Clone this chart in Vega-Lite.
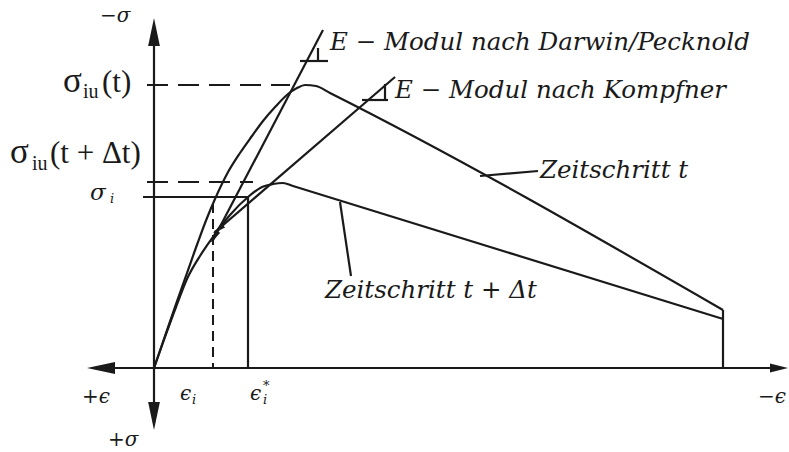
{
  "$schema": "https://vega.github.io/schema/vega-lite/v6.json",
  "width": 789,
  "height": 452,
  "autosize": "none",
  "padding": 0,
  "background": "white",
  "config": {"view": {"stroke": null}},
  "datasets": {
    "zeitschritte": [
      {"curve": "t", "e": 0, "s": 0}, {"curve": "t", "e": 11, "s": 32}, {"curve": "t", "e": 22, "s": 64},
      {"curve": "t", "e": 33, "s": 95}, {"curve": "t", "e": 44, "s": 126}, {"curve": "t", "e": 53, "s": 150},
      {"curve": "t", "e": 61, "s": 169}, {"curve": "t", "e": 73, "s": 194}, {"curve": "t", "e": 86, "s": 215},
      {"curve": "t", "e": 98, "s": 232}, {"curve": "t", "e": 109, "s": 247}, {"curve": "t", "e": 122, "s": 262},
      {"curve": "t", "e": 134, "s": 274}, {"curve": "t", "e": 143, "s": 280}, {"curve": "t", "e": 151, "s": 283},
      {"curve": "t", "e": 162, "s": 282}, {"curve": "t", "e": 176, "s": 275}, {"curve": "t", "e": 569, "s": 58},
      {"curve": "t+dt", "e": 0, "s": 0}, {"curve": "t+dt", "e": 11, "s": 31}, {"curve": "t+dt", "e": 22, "s": 61},
      {"curve": "t+dt", "e": 33, "s": 89}, {"curve": "t+dt", "e": 46, "s": 112}, {"curve": "t+dt", "e": 59, "s": 131},
      {"curve": "t+dt", "e": 76, "s": 153}, {"curve": "t+dt", "e": 94, "s": 171}, {"curve": "t+dt", "e": 108, "s": 181},
      {"curve": "t+dt", "e": 119, "s": 184}, {"curve": "t+dt", "e": 129, "s": 185}, {"curve": "t+dt", "e": 139, "s": 182},
      {"curve": "t+dt", "e": 569, "s": 49}
    ],
    "strecken": [
      {"name": "achse eps", "e": -60, "s": 0, "e2": 630, "s2": 0},
      {"name": "achse sigma", "e": 0, "s": 340, "e2": 0, "s2": -55},
      {"name": "E Darwin/Pecknold", "e": 169, "s": 338, "e2": 58, "s2": 126},
      {"name": "E Kompfner", "e": 241, "s": 291, "e2": 60, "s2": 135},
      {"name": "sigma_i", "e": -11, "s": 171, "e2": 94, "s2": 171},
      {"name": "eps_i*", "e": 94, "s": 171, "e2": 94, "s2": 0},
      {"name": "Entlastung", "e": 569, "s": 58, "e2": 569, "s2": 0},
      {"name": "Zeiger t", "e": 326, "s": 192, "e2": 384, "s2": 197},
      {"name": "Zeiger t+dt", "e": 186, "s": 166, "e2": 197, "s2": 92},
      {"name": "Dreieck Darwin h", "e": 146, "s": 307, "e2": 174, "s2": 307},
      {"name": "Dreieck Darwin v", "e": 164, "s": 320, "e2": 164, "s2": 306},
      {"name": "Dreieck Kompfner h", "e": 208, "s": 268, "e2": 234, "s2": 268},
      {"name": "Dreieck Kompfner v", "e": 231, "s": 284, "e2": 231, "s2": 267}
    ],
    "festigkeiten": [
      {"name": "sigma_iu(t)", "e": -7, "s": 283, "e2": 136, "s2": 283},
      {"name": "sigma_iu(t+dt)", "e": -7, "s": 186, "e2": 99, "s2": 186}
    ],
    "dehnung_i": [
      {"name": "eps_i", "e": 59, "s": 165, "e2": 59, "s2": 0}
    ]
  },
  "encoding": {
    "x": {"field": "e", "type": "quantitative", "scale": {"domain": [-154, 635], "nice": false, "zero": false}, "axis": null},
    "y": {"field": "s", "type": "quantitative", "scale": {"domain": [-84, 368], "nice": false, "zero": false}, "axis": null}
  },
  "layer": [
    {
      "data": {"name": "zeitschritte"},
      "mark": {"type": "line", "interpolate": "monotone", "stroke": "#1a1a1a", "strokeWidth": 2.2},
      "encoding": {"detail": {"field": "curve"}}
    },
    {
      "data": {"name": "strecken"},
      "mark": {"type": "rule", "stroke": "#1a1a1a", "strokeWidth": 2.2},
      "encoding": {"x2": {"field": "e2"}, "y2": {"field": "s2"}}
    },
    {
      "data": {"name": "festigkeiten"},
      "mark": {"type": "rule", "stroke": "#1a1a1a", "strokeWidth": 2, "strokeDash": [21, 10]},
      "encoding": {"x2": {"field": "e2"}, "y2": {"field": "s2"}}
    },
    {
      "data": {"name": "dehnung_i"},
      "mark": {"type": "rule", "stroke": "#1a1a1a", "strokeWidth": 2, "strokeDash": [10, 6]},
      "encoding": {"x2": {"field": "e2"}, "y2": {"field": "s2"}}
    },
    {
      "data": {"values": [{"e": 0, "s": 350}]},
      "mark": {"type": "point", "shape": "M0,0L0.42,2L-0.42,2Z", "filled": true, "size": 784, "color": "#1a1a1a", "opacity": 1, "angle": 0}
    },
    {
      "data": {"values": [{"e": 0, "s": -62}]},
      "mark": {"type": "point", "shape": "M0,0L0.42,2L-0.42,2Z", "filled": true, "size": 784, "color": "#1a1a1a", "opacity": 1, "angle": 180}
    },
    {
      "data": {"values": [{"e": -67, "s": 0}]},
      "mark": {"type": "point", "shape": "M0,0L0.42,2L-0.42,2Z", "filled": true, "size": 784, "color": "#1a1a1a", "opacity": 1, "angle": 270}
    },
    {
      "data": {"values": [{"e": 634, "s": 0}]},
      "mark": {"type": "point", "shape": "M0,0L0.5,2L-0.5,2Z", "filled": true, "size": 324, "color": "#1a1a1a", "opacity": 1, "angle": 90}
    },
    {
      "data": {"values": [{"e": 58, "s": 126}]},
      "mark": {"type": "point", "shape": "M0,0L0.5,2L-0.5,2Z", "filled": true, "size": 144, "color": "#1a1a1a", "opacity": 1, "angle": 207.6}
    },
    {
      "data": {"values": [{"e": 60, "s": 135}]},
      "mark": {"type": "point", "shape": "M0,0L0.5,2L-0.5,2Z", "filled": true, "size": 144, "color": "#1a1a1a", "opacity": 1, "angle": 229.4}
    },
    {
      "data": {"values": [
        {"label": "E − Modul nach Darwin/Pecknold", "e": 176, "s": 318},
        {"label": "E − Modul nach Kompfner", "e": 241, "s": 270},
        {"label": "Zeitschritt t", "e": 386, "s": 190},
        {"label": "Zeitschritt t + Δt", "e": 171, "s": 70}
      ]},
      "mark": {"type": "text", "font": "DejaVu Serif", "fontStyle": "italic", "fontSize": 24.5, "align": "left", "baseline": "alphabetic", "color": "#1a1a1a"},
      "encoding": {"text": {"field": "label"}}
    },
    {
      "data": {"values": [
        {"label": "σ", "e": -91, "s": 276},
        {"label": "σ", "e": -144, "s": 205}
      ]},
      "mark": {"type": "text", "font": "Liberation Serif", "fontSize": 35, "align": "left", "baseline": "alphabetic", "color": "#1a1a1a"},
      "encoding": {"text": {"field": "label"}}
    },
    {
      "data": {"values": [
        {"label": "(t)", "e": -52, "s": 276},
        {"label": "(t + Δt)", "e": -104, "s": 205}
      ]},
      "mark": {"type": "text", "font": "Liberation Serif", "fontSize": 31, "align": "left", "baseline": "alphabetic", "color": "#1a1a1a"},
      "encoding": {"text": {"field": "label"}}
    },
    {
      "data": {"values": [
        {"label": "iu", "e": -71, "s": 270},
        {"label": "iu", "e": -122, "s": 198}
      ]},
      "mark": {"type": "text", "font": "Liberation Serif", "fontSize": 20, "align": "left", "baseline": "alphabetic", "color": "#1a1a1a"},
      "encoding": {"text": {"field": "label"}}
    },
    {
      "data": {"values": [
        {"label": "−σ", "e": -54, "s": 346},
        {"label": "+σ", "e": -46, "s": -78},
        {"label": "+ϵ", "e": -72, "s": -35},
        {"label": "−ϵ", "e": 604, "s": -35},
        {"label": "ϵ", "e": 26, "s": -32},
        {"label": "ϵ", "e": 96, "s": -32}
      ]},
      "mark": {"type": "text", "font": "DejaVu Serif", "fontStyle": "italic", "fontSize": 20, "align": "left", "baseline": "alphabetic", "color": "#1a1a1a"},
      "encoding": {"text": {"field": "label"}}
    },
    {
      "data": {"values": [{"label": "σ", "e": -64, "s": 168}]},
      "mark": {"type": "text", "font": "DejaVu Serif", "fontStyle": "italic", "fontSize": 23, "align": "left", "baseline": "alphabetic", "color": "#1a1a1a"},
      "encoding": {"text": {"field": "label"}}
    },
    {
      "data": {"values": [
        {"label": "i", "e": -44, "s": 165},
        {"label": "i", "e": 38, "s": -36},
        {"label": "i", "e": 109, "s": -36},
        {"label": "*", "e": 109, "s": -22}
      ]},
      "mark": {"type": "text", "font": "DejaVu Serif", "fontStyle": "italic", "fontSize": 13, "align": "left", "baseline": "alphabetic", "color": "#1a1a1a"},
      "encoding": {"text": {"field": "label"}}
    }
  ]
}
